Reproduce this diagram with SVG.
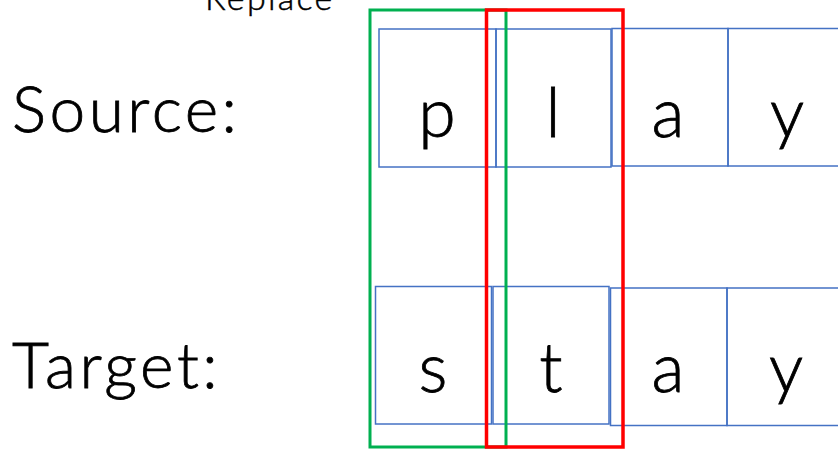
<svg xmlns="http://www.w3.org/2000/svg" width="838" height="449" viewBox="0 0 838 449">
<style>
.cell{fill:none;stroke:#4472C4;stroke-width:1.5}
.t{font-family:Lato,"Open Sans",sans-serif;font-weight:300;fill:#000;stroke:#000;stroke-width:0.8}
.ch{font-size:68px;text-anchor:middle}
.lbl{font-size:64px;letter-spacing:3.5px}
.sm{font-size:34px;letter-spacing:2.3px;stroke-width:0.5}
</style>
<rect width="838" height="449" fill="#fff"/>
<text class="t sm" x="205" y="10">Replace</text>
<text class="t lbl" x="12" y="132">Source:</text>
<text class="t lbl" x="12" y="388">Target:</text>
<g id="src-p"><rect class="cell" x="379" y="29" width="117" height="138"/><text class="t ch" x="437" y="137">p</text></g>
<g id="src-l"><rect class="cell" x="496" y="29" width="115" height="138"/><text class="t ch" x="553" y="137">l</text></g>
<g id="src-a"><rect class="cell" x="612" y="28.5" width="116" height="137.5"/><text class="t ch" x="668" y="137">a</text></g>
<g id="src-y"><rect class="cell" x="728" y="28.5" width="120" height="137.5"/><text class="t ch" x="787" y="137">y</text></g>
<g id="tgt-s"><rect class="cell" x="375.5" y="286.5" width="116" height="137.5"/><text class="t ch" x="433" y="392">s</text></g>
<g id="tgt-t"><rect class="cell" x="493" y="286.5" width="116" height="137.5"/><text class="t ch" x="551" y="392">t</text></g>
<g id="tgt-a"><rect class="cell" x="610.5" y="288" width="116.5" height="137.5"/><text class="t ch" x="668" y="392">a</text></g>
<g id="tgt-y"><rect class="cell" x="727" y="288" width="120" height="137.5"/><text class="t ch" x="786" y="392">y</text></g>
<g id="highlights">
<rect x="370" y="10" width="136" height="437" fill="none" stroke="#00B050" stroke-width="3"/>
<rect x="486.5" y="10" width="136.5" height="437" fill="none" stroke="#FF0000" stroke-width="3.5"/>
</g>
</svg>
